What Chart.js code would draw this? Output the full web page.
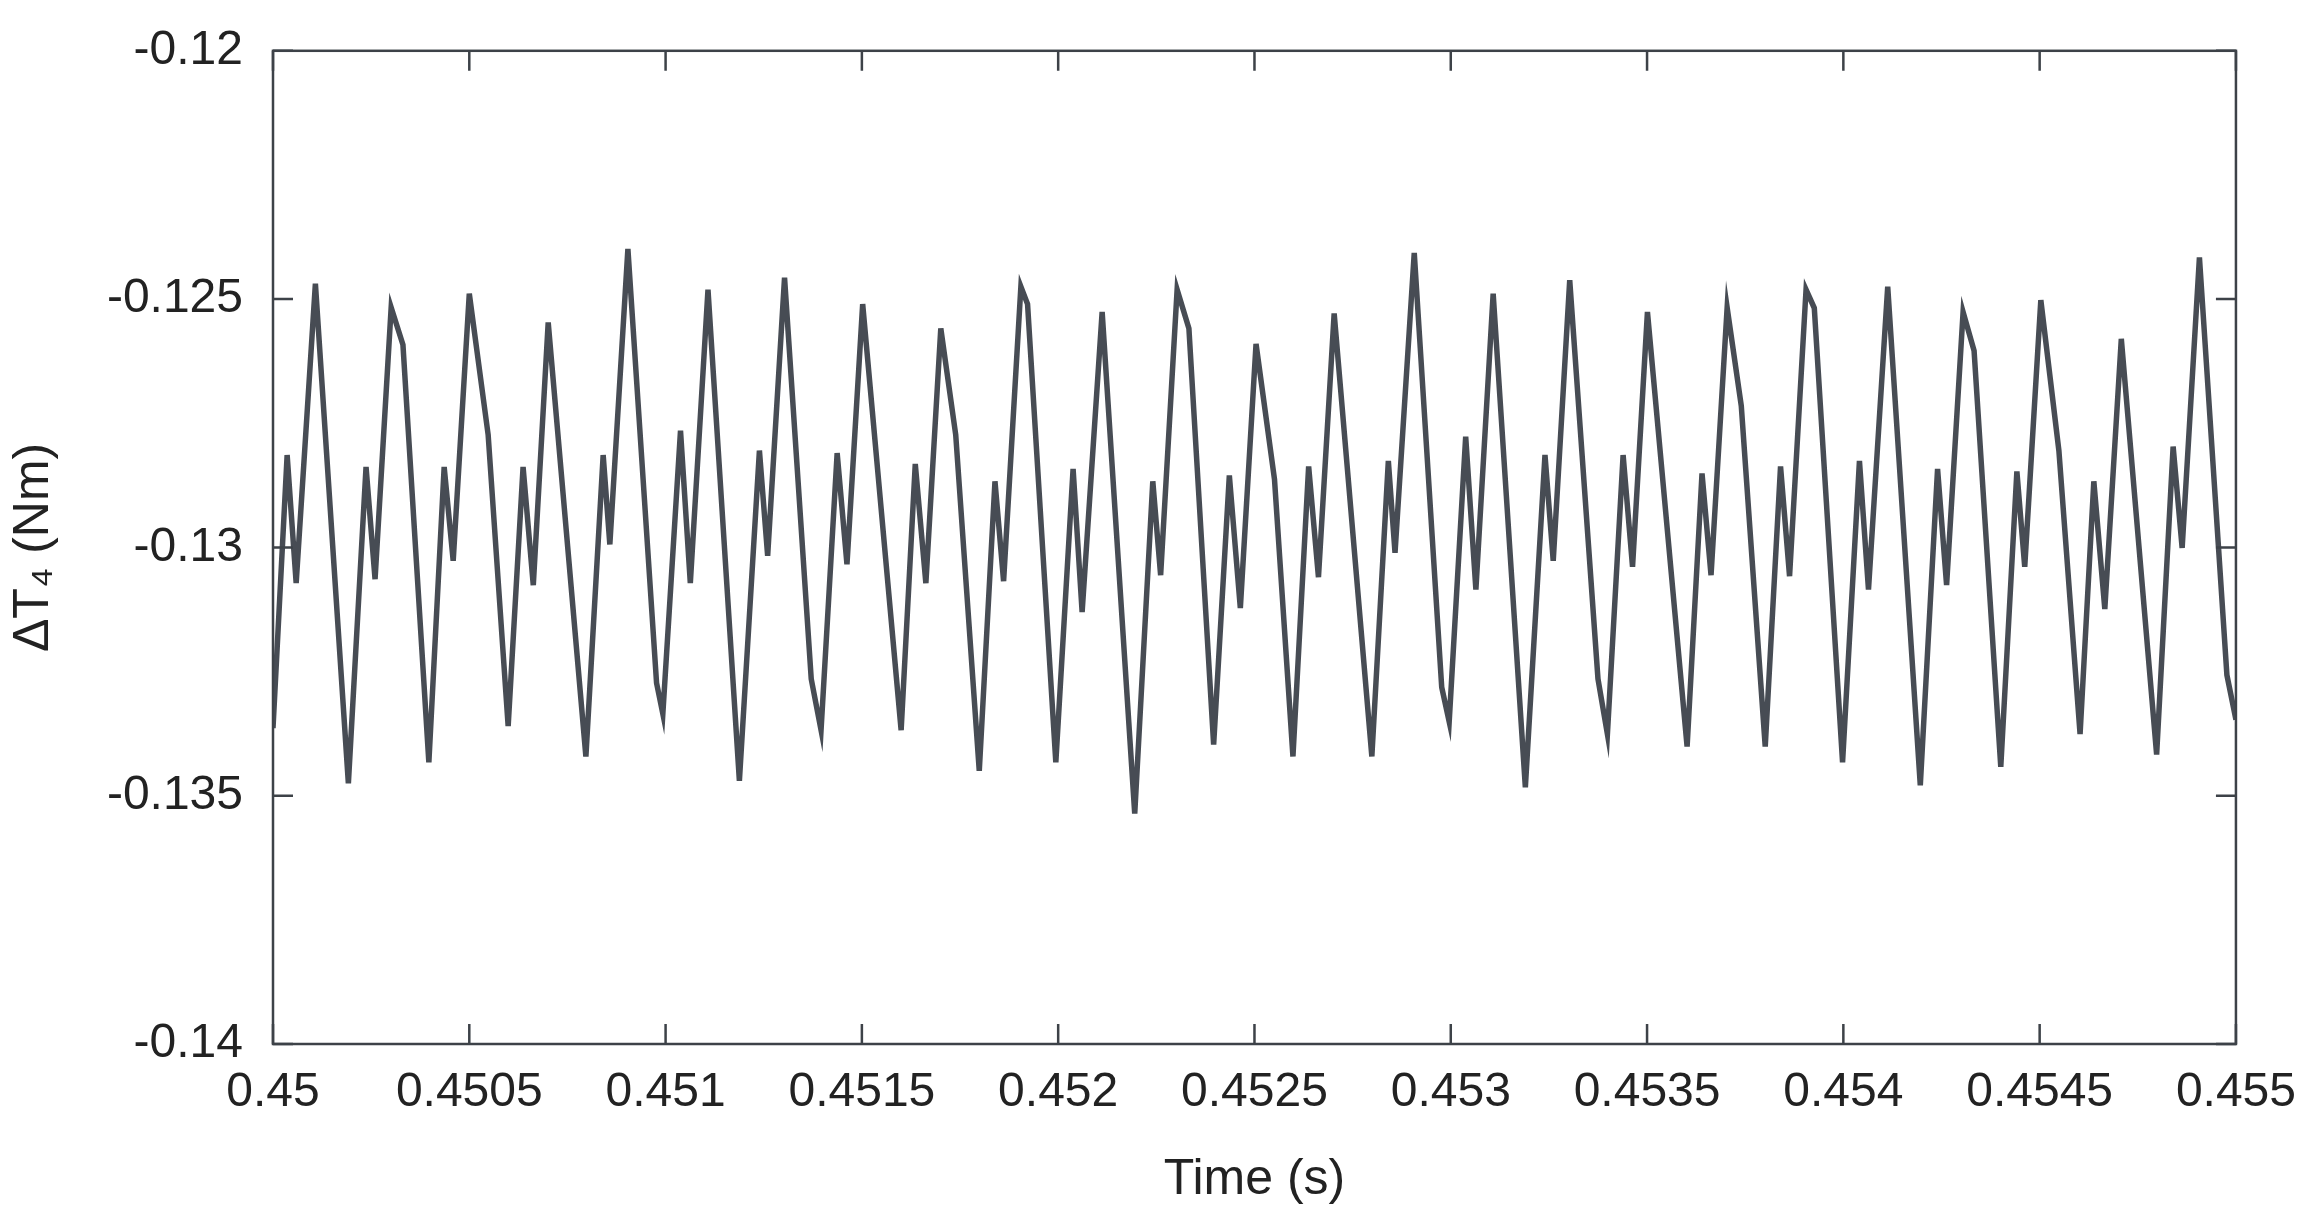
<!DOCTYPE html>
<html>
<head>
<meta charset="utf-8">
<script src="https://cdn.jsdelivr.net/npm/chart.js@4/dist/chart.umd.min.js"></script>
<style>
  html, body { margin: 0; padding: 0; background: #fff; }
  canvas { display: block; }
</style>
</head>
<body>
<canvas id="myChart" width="2308" height="1214"></canvas>
<script>
// tiempos (s) de cada vertice
const tiempos = [
  0.45, 0.450036, 0.450059, 0.450108, 0.450192, 0.450237, 0.45026, 0.450301, 0.450331, 0.450397,
  0.450436, 0.450459, 0.4505, 0.450548, 0.450599, 0.450637, 0.450663, 0.450701, 0.450797, 0.450841,
  0.450858, 0.450904, 0.450977, 0.450993, 0.451038, 0.451063, 0.451108, 0.451188, 0.451239, 0.45126,
  0.451303, 0.451371, 0.451396, 0.451437, 0.451462, 0.451502, 0.4516, 0.451636, 0.451663, 0.451701,
  0.451739, 0.451799, 0.451839, 0.451861, 0.451905, 0.451922, 0.451994, 0.452038, 0.452061, 0.452112,
  0.452195, 0.452241, 0.452261, 0.452303, 0.452333, 0.452396, 0.452436, 0.452464, 0.452504, 0.452551,
  0.452598, 0.452638, 0.452663, 0.452703, 0.452799, 0.452841, 0.452858, 0.452907, 0.452977, 0.452996,
  0.453038, 0.453064, 0.453108, 0.45319, 0.45324, 0.453261, 0.453303, 0.453375, 0.453399, 0.453439,
  0.453463, 0.453501, 0.453602, 0.45364, 0.453663, 0.453704, 0.45374, 0.453801, 0.45384, 0.453863,
  0.453905, 0.453926, 0.453998, 0.454041, 0.454064, 0.454113, 0.454196, 0.45424, 0.454263, 0.454305,
  0.454333, 0.454401, 0.454442, 0.454462, 0.454503, 0.454549, 0.454603, 0.454638, 0.454666, 0.454708,
  0.454798, 0.45484, 0.454863, 0.454907, 0.454977, 0.455
];
// par (Nm)
const deltaT4 = [
  -0.13364, -0.12814, -0.13072, -0.12469, -0.13475, -0.12838, -0.13064, -0.12517, -0.12592, -0.13433,
  -0.12838, -0.13027, -0.12489, -0.12773, -0.1336, -0.12838, -0.13076, -0.12547, -0.13421, -0.12814,
  -0.12994, -0.12399, -0.13273, -0.13335, -0.12765, -0.13072, -0.12481, -0.1347, -0.12805, -0.13017,
  -0.12457, -0.13265, -0.13368, -0.1281, -0.13034, -0.1251, -0.13368, -0.12832, -0.13072, -0.12559,
  -0.12773, -0.1345, -0.12867, -0.13068, -0.12475, -0.1251, -0.13433, -0.12842, -0.1313, -0.12526,
  -0.13536, -0.12867, -0.13056, -0.12481, -0.12559, -0.13397, -0.12855, -0.13122, -0.1259, -0.12863,
  -0.13421, -0.12837, -0.1306, -0.12529, -0.13421, -0.12826, -0.13011, -0.12407, -0.13282, -0.13351,
  -0.12777, -0.13085, -0.12489, -0.13483, -0.12814, -0.13027, -0.12462, -0.13265, -0.13376, -0.12814,
  -0.13039, -0.12526, -0.13401, -0.12851, -0.13056, -0.12517, -0.12715, -0.13401, -0.12837, -0.13058,
  -0.12481, -0.12518, -0.13433, -0.12826, -0.13085, -0.12475, -0.13479, -0.12842, -0.13076, -0.12526,
  -0.12604, -0.13442, -0.12847, -0.13039, -0.12502, -0.12805, -0.13376, -0.12867, -0.13124, -0.1258,
  -0.13417, -0.12797, -0.13001, -0.12416, -0.13257, -0.13347
];
const xTicks = [0.45, 0.4505, 0.451, 0.4515, 0.452, 0.4525, 0.453, 0.4535, 0.454, 0.4545, 0.455];
const yTicks = [-0.14, -0.135, -0.13, -0.125, -0.12];

const colorEje = "#3d4248";
const fuente = "'Liberation Sans', Arial, sans-serif";

// caja y ticks hacia adentro (estilo MATLAB)
const cajaTicks = {
  id: "cajaTicks",
  afterDraw(chart) {
    const { ctx, chartArea: a, scales } = chart;
    ctx.save();
    ctx.strokeStyle = colorEje;
    ctx.lineWidth = 2.5;
    ctx.strokeRect(a.left, a.top, a.right - a.left, a.bottom - a.top);
    const L = 20;
    ctx.beginPath();
    xTicks.forEach((v) => {
      const px = scales.x.getPixelForValue(v);
      ctx.moveTo(px, a.bottom); ctx.lineTo(px, a.bottom - L);
      ctx.moveTo(px, a.top); ctx.lineTo(px, a.top + L);
    });
    yTicks.forEach((v) => {
      const py = scales.y.getPixelForValue(v);
      ctx.moveTo(a.left, py); ctx.lineTo(a.left + L, py);
      ctx.moveTo(a.right, py); ctx.lineTo(a.right - L, py);
    });
    ctx.stroke();
    ctx.restore();
  },
};

const data = {
  datasets: [
    {
      data: tiempos.map((t, i) => ({ x: t, y: deltaT4[i] })),
      borderColor: "#474c54",
      borderWidth: 5.5,
      pointRadius: 0,
      tension: 0,
      fill: false,
    },
  ],
};

const config = {
  type: "line",
  data: data,
  options: {
    responsive: false,
    animation: false,
    devicePixelRatio: 1,
    layout: { padding: { top: 8, right: 69, left: 0, bottom: 0 } },
    plugins: { legend: { display: false }, tooltip: { enabled: false } },
    scales: {
      x: {
        type: "linear",
        min: 0.45,
        max: 0.455,
        afterBuildTicks: (s) => { s.ticks = xTicks.map((v) => ({ value: v })); },
        afterFit: (s) => { s.height = 170; },
        grid: { display: false },
        border: { display: false },
        ticks: {
          color: "#222",
          padding: 12,
          maxRotation: 0,
          font: { family: fuente, size: 48 },
          callback: (v) => String(parseFloat(v.toFixed(5))),
        },
        title: {
          display: true,
          text: "Time (s)",
          color: "#222",
          padding: { top: 0 },
          font: { family: fuente, size: 50 },
        },
      },
      y: {
        min: -0.14,
        max: -0.12,
        afterBuildTicks: (s) => { s.ticks = yTicks.map((v) => ({ value: v })); },
        afterFit: (s) => { s.width = 273; },
        grid: { display: false },
        border: { display: false },
        ticks: {
          color: "#222",
          padding: 22,
          font: { family: fuente, size: 48 },
          callback: (v) => String(parseFloat(v.toFixed(5))),
        },
        title: {
          display: true,
          text: "ΔT₄ (Nm)",
          color: "#222",
          padding: { bottom: 0 },
          font: { family: fuente, size: 50 },
        },
      },
    },
  },
  plugins: [cajaTicks],
};

const myChartElement = document.getElementById("myChart");
var myChart = new Chart(myChartElement, config);
</script>
</body>
</html>
